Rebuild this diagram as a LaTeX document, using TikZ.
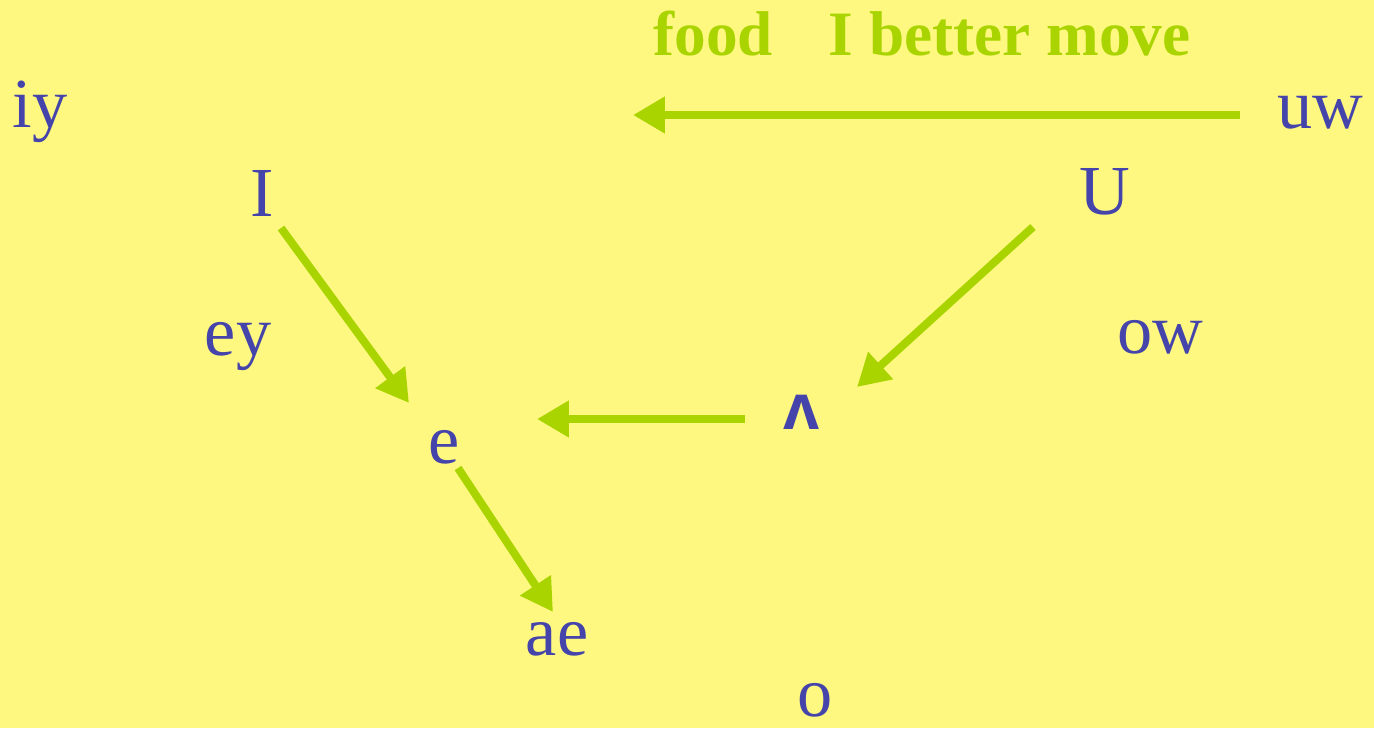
\documentclass[tikz,border=0pt]{standalone}
\usepackage{fontspec}
\setmainfont{Liberation Serif}
\newfontfamily\ipafont{Liberation Sans}
\usepackage{tikz}
\usetikzlibrary{arrows.meta}
\definecolor{bgyellow}{RGB}{255,248,128}
\definecolor{vowelblue}{RGB}{68,68,170}
\definecolor{arrowgreen}{RGB}{170,212,0}

\begin{document}
\begin{tikzpicture}[x=0.02cm, y=-0.02cm,
			vowel/.style={text=vowelblue, font=\fontsize{40}{42}\selectfont, inner sep=0, anchor=base},
			note/.style={text=arrowgreen, font=\fontsize{36}{40}\selectfont\bfseries, inner sep=0, anchor=base},
			arrow/.style={-{Triangle[length=0.64cm,width=0.7cm]}, line width=0.16cm, draw=arrowgreen}]
			
			\fill[bgyellow] (0,0) rectangle (1374,728);
			\useasboundingbox (0,0) rectangle (1374,728);
			
			\node[note] (move) at (922,55) {food\hspace{0.8cm} I better move};
			
			\node[vowel] (iy) at (40,127) {iy};
			\node[vowel] (I) at (262,216) {I};
			\node[vowel] (ey) at (238,355) {ey};
			\node[vowel] (e) at (444,463) {e};
			\node[vowel] (ae) at (557,655) {ae};
			\node[vowel] (o) at (815,716) {o};
			\node[vowel, font=\fontsize{37}{40}\ipafont\bfseries] (uh) at (802,429) {ʌ};
			\node[vowel] (ow) at (1160,353) {ow};
			\node[vowel] (U) at (1105,214) {U};
			\node[vowel] (uw) at (1320,128) {uw};
			\coordinate (front) at (633,115);
			
			\draw[arrow] ([shift={(-80,-13)}]uw.base) -- (front);
			\draw[arrow] ([shift={(-72,13)}]U.base) -- ([shift={(55,-42)}]uh.base);
			\draw[arrow] ([shift={(-57,-10)}]uh.base) -- ([shift={(93,-44)}]e.base);
			\draw[arrow] ([shift={(19,12)}]I.base) -- ([shift={(-35,-60)}]e.base);
			\draw[arrow] ([shift={(14,5)}]e.base) -- ([shift={(-4,-43)}]ae.base);
			
		\end{tikzpicture}
\end{document}
